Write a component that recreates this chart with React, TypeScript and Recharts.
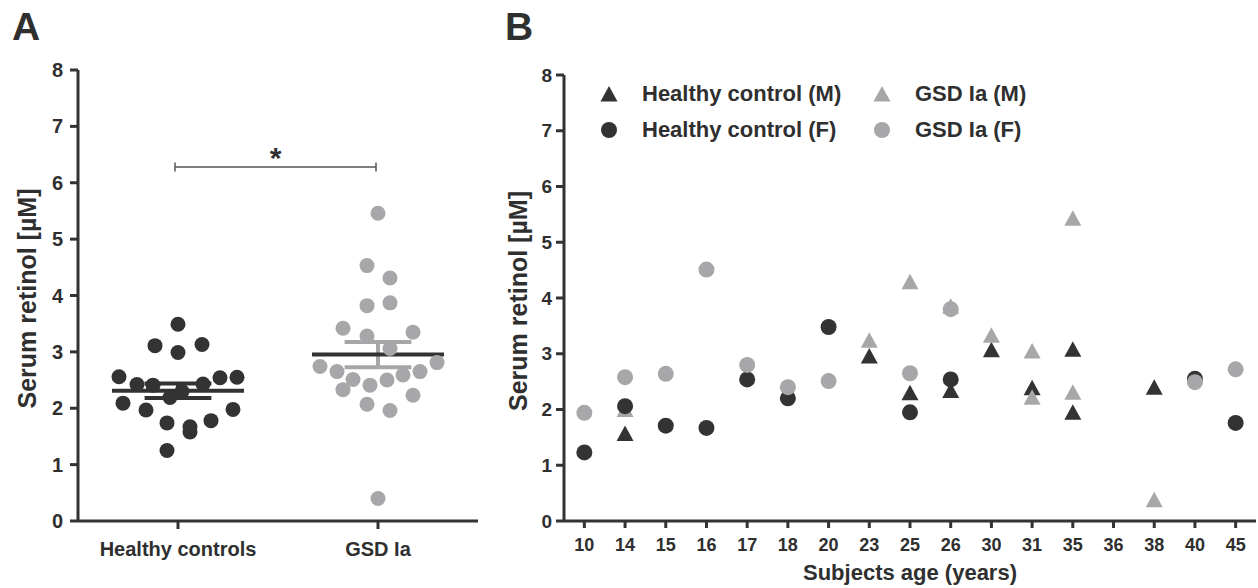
import { ScatterChart, Scatter, XAxis, YAxis, ReferenceLine, Legend } from "recharts";

const FONT = '"Liberation Sans", Arial, Helvetica, sans-serif';
const DARK = "#333333";
const GREY = "#a7a7a9";
const TEXT = "#2f2f2f";

// ---- panel A: group scatter ----
const GROUPS = ["Healthy controls", "GSD Ia"];
const HEALTHY_VALUES = [3.49, 3.11, 3.13, 2.99, 2.56, 2.42, 2.41, 2.43, 2.54, 2.55, 2.19, 2.3, 2.09, 1.97, 1.98, 1.74, 1.67, 1.58, 1.78, 1.25];
const GSD_VALUES = [5.46, 4.53, 4.31, 3.82, 3.87, 3.42, 3.35, 3.28, 3.06, 2.74, 2.65, 2.81, 2.65, 2.59, 2.51, 2.5, 2.33, 2.41, 2.23, 2.07, 1.96, 0.4];
// beeswarm spread of each dot, px from the group centre
const HEALTHY_SPREAD = [0, -23, 24, 0, -59, -41, -25, 25, 42, 59, -8, 4, -55, -32, 55, -11, 12, 12, 33, -11];
const GSD_SPREAD = [0, -11, 12, -11, 12, -35, 35, -11, 12, -58, -41, 59, 42, 25, -25, 9, -35, -8, 35, -11, 12, 0];
const PX_PER_GROUP = 200;
const Y_TICKS = [0, 1, 2, 3, 4, 5, 6, 7, 8];
const SIG_LEVEL = 6.28;

// ---- panel B: by age ----
const AGES = [10, 14, 15, 16, 17, 18, 20, 23, 25, 26, 30, 31, 35, 36, 38, 40, 45];
const HC_M_AGES = [14, 23, 25, 26, 30, 31, 35, 35, 38];
const HC_M_VALUES = [1.57, 2.96, 2.3, 2.34, 3.07, 2.39, 3.08, 1.95, 2.4];
const HC_F_AGES = [10, 14, 15, 16, 17, 18, 20, 25, 26, 40, 45];
const HC_F_VALUES = [1.23, 2.06, 1.71, 1.67, 2.54, 2.2, 3.48, 1.95, 2.54, 2.55, 1.76];
const GSD_M_AGES = [14, 23, 25, 26, 30, 31, 31, 35, 35, 38];
const GSD_M_VALUES = [2.0, 3.24, 4.29, 3.85, 3.33, 3.05, 2.22, 5.43, 2.31, 0.38];
const GSD_F_AGES = [10, 14, 15, 16, 17, 18, 20, 25, 26, 40, 45];
const GSD_F_VALUES = [1.94, 2.58, 2.64, 4.51, 2.8, 2.4, 2.51, 2.65, 3.8, 2.49, 2.72];

const mean = (a: number[]) => a.reduce((s, v) => s + v, 0) / a.length;
const sem = (a: number[]) => {
    const m = mean(a);
    const sd = Math.sqrt(a.reduce((s, v) => s + (v - m) ** 2, 0) / (a.length - 1));
    return sd / Math.sqrt(a.length);
};

const swarm = (values: number[], spread: number[], group: number) =>
    values.map((y, i) => ({ x: group + spread[i] / PX_PER_GROUP, y }));

const byAge = (ages: number[], values: number[]) =>
    ages.map((age, i) => ({ x: AGES.indexOf(age), y: values[i] }));

// draw order = legend order (row by row)
const SERIES_B = [
    { name: "Healthy control (M)", color: DARK, marker: "tri", data: byAge(HC_M_AGES, HC_M_VALUES) },
    { name: "GSD Ia (M)", color: GREY, marker: "tri", data: byAge(GSD_M_AGES, GSD_M_VALUES) },
    { name: "Healthy control (F)", color: DARK, marker: "dot", data: byAge(HC_F_AGES, HC_F_VALUES) },
    { name: "GSD Ia (F)", color: GREY, marker: "dot", data: byAge(GSD_F_AGES, GSD_F_VALUES) },
];

const dot = (r: number, fill: string) => (p: any) => <circle cx={p.cx} cy={p.cy} r={r} fill={fill} />;
const tri = (fill: string) => (p: any) => (
    <path d={`M${p.cx},${p.cy - 8} L${p.cx + 8.5},${p.cy + 7.5} L${p.cx - 8.5},${p.cy + 7.5} Z`} fill={fill} />
);

const tickStyle = (size: number) => ({ fill: TEXT, fontSize: size, fontWeight: "bold", fontFamily: FONT });
const axisStroke = { stroke: DARK, strokeWidth: 3 };

const yTitle = (dx: number) => (props: any) => {
    const vb = props.viewBox || { x: 0, y: 70, width: 78, height: 451 };
    const x = vb.x + dx;
    const y = vb.y + vb.height / 2 + 3;
    return (
        <text
            x={x}
            y={y}
            transform={`rotate(-90 ${x} ${y})`}
            textAnchor="middle"
            dominantBaseline="central"
            fill={TEXT}
            fontSize={25}
            fontWeight="bold"
            fontFamily={FONT}
        >
            Serum retinol [µM]
        </text>
    );
};

const renderLegend = (props: any) => {
    const order = (name: string) => SERIES_B.findIndex((d) => d.name === name);
    const items = [...(props.payload || [])].sort((a: any, b: any) => order(a.value) - order(b.value));
    return (
        <div
            style={{
                display: "grid",
                gridTemplateColumns: "273px auto",
                fontFamily: FONT,
                fontWeight: "bold",
                fontSize: 22,
                color: TEXT,
            }}
        >
            {items.map((entry: any) => {
                const s = SERIES_B[order(entry.value)];
                return (
                    <div key={entry.value} style={{ display: "flex", alignItems: "center", height: 36 }}>
                        <svg width={20} height={20} style={{ marginRight: 23 }}>
                            {s?.marker === "tri" ? (
                                <path d="M10,2 L18.5,17.5 L1.5,17.5 Z" fill={s.color} />
                            ) : (
                                <circle cx={10} cy={10} r={8} fill={s?.color} />
                            )}
                        </svg>
                        <span>{entry.value}</span>
                    </div>
                );
            })}
        </div>
    );
};

function GroupPanel() {
    const groups = [
        { values: HEALTHY_VALUES, spread: HEALTHY_SPREAD, color: DARK },
        { values: GSD_VALUES, spread: GSD_SPREAD, color: GREY },
    ];
    return (
        <ScatterChart
            width={490}
            height={588}
            margin={{ top: 70, right: 12, bottom: 0, left: 0 }}
            style={{ position: "absolute", left: 0, top: 0 }}
        >
            <XAxis
                type="number"
                dataKey="x"
                domain={[0.5, 2.5]}
                ticks={[1, 2]}
                tickFormatter={(v: number) => GROUPS[v - 1]}
                height={67}
                axisLine={axisStroke}
                tickLine={axisStroke}
                tickSize={8}
                tickMargin={13}
                tick={tickStyle(20)}
            />
            <YAxis
                type="number"
                dataKey="y"
                domain={[0, 8]}
                ticks={Y_TICKS}
                width={78}
                axisLine={axisStroke}
                tickLine={axisStroke}
                tickSize={8}
                tickMargin={7}
                tick={tickStyle(20)}
                label={{ content: yTitle(27) }}
            />
            {groups.map((g, i) => (
                <Scatter
                    key={GROUPS[i]}
                    name={GROUPS[i]}
                    data={swarm(g.values, g.spread, i + 1)}
                    fill={g.color}
                    shape={dot(7.5, g.color)}
                    isAnimationActive={false}
                />
            ))}
            {groups.map((g, i) => {
                const c = i + 1;
                const m = mean(g.values);
                const s = sem(g.values);
                return [
                    <ReferenceLine key={`v${i}`} segment={[{ x: c, y: m - s }, { x: c, y: m + s }]} stroke={g.color} strokeWidth={4} />,
                    <ReferenceLine key={`t${i}`} segment={[{ x: c - 0.167, y: m + s }, { x: c + 0.167, y: m + s }]} stroke={g.color} strokeWidth={4} />,
                    <ReferenceLine key={`b${i}`} segment={[{ x: c - 0.167, y: m - s }, { x: c + 0.167, y: m - s }]} stroke={g.color} strokeWidth={4} />,
                    <ReferenceLine key={`m${i}`} segment={[{ x: c - 0.33, y: m }, { x: c + 0.33, y: m }]} stroke={DARK} strokeWidth={4} />,
                ];
            })}
            <ReferenceLine
                segment={[{ x: 0.985, y: SIG_LEVEL }, { x: 1.99, y: SIG_LEVEL }]}
                stroke="#555"
                strokeWidth={1.5}
                label={{ value: "*", position: "top", offset: -1, fill: TEXT, fontSize: 30, fontWeight: "bold", fontFamily: FONT }}
            />
            <ReferenceLine segment={[{ x: 0.985, y: SIG_LEVEL - 0.08 }, { x: 0.985, y: SIG_LEVEL + 0.08 }]} stroke="#555" strokeWidth={1.5} />
            <ReferenceLine segment={[{ x: 1.99, y: SIG_LEVEL - 0.08 }, { x: 1.99, y: SIG_LEVEL + 0.08 }]} stroke="#555" strokeWidth={1.5} />
        </ScatterChart>
    );
}

function AgePanel() {
    return (
        <ScatterChart
            width={768}
            height={588}
            margin={{ top: 75, right: 2, bottom: 0, left: 0 }}
            style={{ position: "absolute", left: 490, top: 0 }}
        >
            <XAxis
                type="number"
                dataKey="x"
                domain={[-0.5, AGES.length - 0.5]}
                ticks={AGES.map((_, i) => i)}
                tickFormatter={(v: number) => String(AGES[v])}
                interval={0}
                height={67}
                axisLine={axisStroke}
                tickLine={axisStroke}
                tickSize={7}
                tickMargin={10}
                tick={tickStyle(18)}
                label={{
                    value: "Subjects age (years)",
                    position: "insideBottom",
                    offset: 8,
                    fill: TEXT,
                    fontSize: 22,
                    fontWeight: "bold",
                    fontFamily: FONT,
                }}
            />
            <YAxis
                type="number"
                dataKey="y"
                domain={[0, 8]}
                ticks={Y_TICKS}
                width={74}
                axisLine={axisStroke}
                tickLine={axisStroke}
                tickSize={8}
                tickMargin={4}
                tick={tickStyle(19)}
                label={{ content: yTitle(28) }}
            />
            {SERIES_B.map((s) => (
                <Scatter
                    key={s.name}
                    name={s.name}
                    data={s.data}
                    fill={s.color}
                    shape={s.marker === "tri" ? tri(s.color) : dot(8, s.color)}
                    isAnimationActive={false}
                />
            ))}
            <Legend
                layout="horizontal"
                verticalAlign="middle"
                content={renderLegend}
                wrapperStyle={{ left: 109, top: 76, width: 560 }}
            />
        </ScatterChart>
    );
}

const letterStyle = {
    position: "absolute" as const,
    top: 7,
    fontFamily: FONT,
    fontWeight: "bold",
    fontSize: 39,
    lineHeight: 1,
    color: TEXT,
};

export default function App() {
    return (
        <div style={{ position: "absolute", left: 0, top: 0, width: 1258, height: 588, background: "#fff", overflow: "hidden" }}>
            <GroupPanel />
            <AgePanel />
            <div style={{ ...letterStyle, left: 12 }}>A</div>
            <div style={{ ...letterStyle, left: 505 }}>B</div>
        </div>
    );
}
